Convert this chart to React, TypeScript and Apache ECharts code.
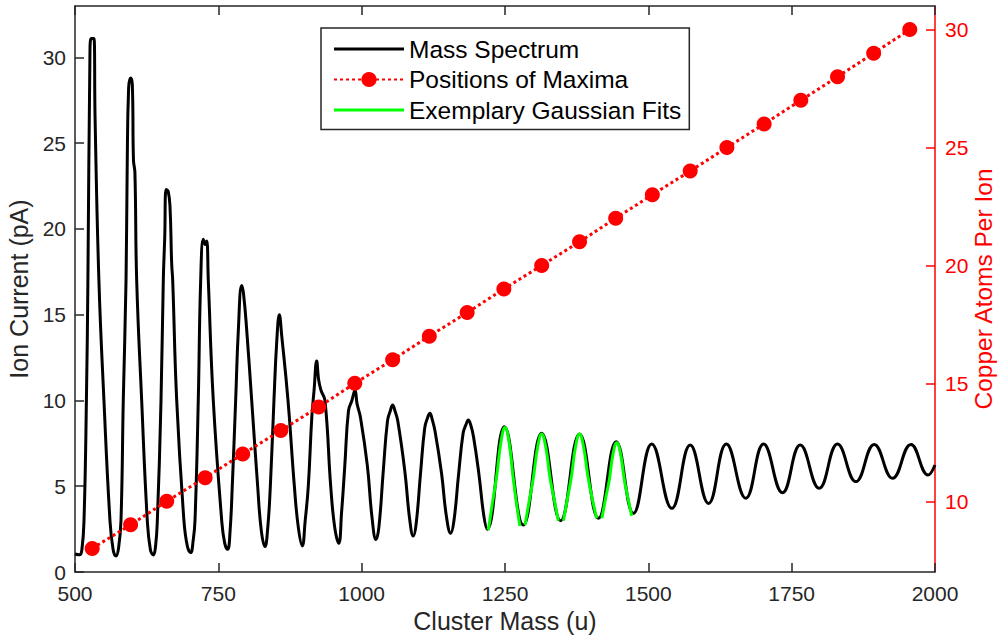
import React, { useEffect, useRef } from "react";
import * as echarts from "echarts";

// ---- axis ticks ----
const massTicks = [500, 750, 1000, 1250, 1500, 1750, 2000];
const currentTicks = [0, 5, 10, 15, 20, 25, 30];
const atomTicks = [10, 15, 20, 25, 30];

// ---- mass spectrum ----
const spectrumMass = [
  500, 508, 512,
  515.7, 519.9, 522.5, 526, 528, 533, 535, 541.7, 550.5, 561, 566.5, 571.5,
  576, 580.2, 584.2, 589, 591, 593.5, 597, 600, 602, 604.5, 607.6, 616.3, 626.1, 631.5, 636.6,
  640.5, 643.6, 650, 654, 656.5, 659, 662.5, 665.7, 668.6, 670.4, 677.4, 690, 696, 701.8,
  706, 709.3, 715, 719.2, 723.8, 727, 729.7, 732.5, 741.2, 755.9, 761, 766.3,
  770.5, 774.3, 780.2, 784.9, 790.7, 794, 799.5, 808.2, 818.6, 825, 831.4,
  836, 840.7, 847, 852, 856.4, 860.5, 871.5, 882.6, 889.5, 896.4,
  901.5, 906.9, 913, 917, 921.5, 925, 929, 936, 946, 953, 960,
  965, 970.6, 977, 983, 988.4, 992, 998, 1009.9, 1018, 1025,
  1030, 1037.7, 1045, 1050, 1054, 1058, 1063, 1075.2, 1084, 1090,
  1095, 1102.7, 1110, 1115, 1119, 1123, 1128, 1139.3, 1148, 1155.3,
  1161, 1169, 1177, 1182, 1186, 1190, 1195, 1204.6, 1213, 1219.1,
  1249, 1282, 1314, 1347, 1380, 1413, 1444, 1474, 1506, 1541, 1573, 1605,
  1636, 1670, 1701, 1734, 1765, 1798, 1830, 1862, 1894, 1926, 1958, 1988, 2000,
];
const spectrumCurrent = [
  1.05, 1.0, 1.3,
  3, 10, 17, 30, 31.1, 31.1, 26.5, 17, 10, 3, 1.3, 0.93,
  1.4, 3, 10, 17, 23.5, 28.2, 28.8, 28.4, 24, 23.3, 17, 10, 3, 1.3, 0.99,
  1.5, 3, 10, 17, 19.5, 22.3, 22.2, 21.3, 18, 17, 10, 3, 1.5, 1.13,
  1.8, 3, 10, 17, 19.4, 19.1, 19.3, 17, 10, 3, 1.7, 1.32,
  2.4, 5, 10, 14.1, 16.7, 16.2, 14.1, 10, 5, 2.4, 1.48,
  2.5, 5, 10, 13.5, 15.0, 13.8, 10, 5, 2.6, 1.52,
  3, 5, 9, 10.6, 12.3, 11.2, 10.6, 10, 5, 2.6, 1.67,
  3.5, 6.2, 9.4, 10, 10.6, 9.8, 9.0, 6.2, 3.2, 1.9,
  2.6, 5.9, 8.8, 9.4, 9.74, 9.4, 8.8, 5.9, 3, 2.1,
  2.8, 5.76, 8.4, 9.0, 9.25, 8.9, 8.2, 5.76, 3.2, 2.26,
  3.0, 5.68, 8.1, 8.6, 8.86, 8.6, 7.9, 5.68, 3.3, 2.49,
  8.47, 2.74, 8.09, 2.99, 8.05, 3.13, 7.6, 3.42, 7.46, 3.71, 7.4, 4.0,
  7.46, 4.3, 7.46, 4.62, 7.4, 4.88, 7.46, 5.27, 7.44, 5.46, 7.44, 5.66, 6.24,
];

// ---- positions of maxima ----
const maximaMass = [
  530, 597, 660, 727, 792.5, 859, 925, 988, 1054, 1118, 1184, 1248,
  1314, 1380, 1443, 1507, 1573, 1637, 1702, 1766, 1830, 1893, 1956,
];
const atomsPerIon = [
  8, 9, 10, 11, 12, 13, 14, 15, 16, 17, 18, 19,
  20, 21, 22, 23, 24, 25, 26, 27, 28, 29, 30,
];

// ---- exemplary gaussian fits (null = gap) ----
const fitMass = [
  1221, 1228, 1235.5, 1243, 1250, 1257, 1263.5, 1270, 1276, 1280,
  1285, 1292, 1299.5, 1307, 1314, 1321, 1328.5, 1336, 1343, 1347,
  1352, 1359, 1366, 1373, 1380, 1387, 1394.5, 1402, 1410, 1414,
  1419, 1425.5, 1432, 1438.5, 1445, 1451.5, 1458, 1464.5, 1471,
];
const fitCurrent = [
  2.45, 4.0, 5.6, 7.6, 8.42, 7.6, 5.7, 4.0, 2.68, null,
  2.74, 4.1, 5.5, 7.3, 8.05, 7.3, 5.5, 4.2, 2.99, null,
  2.99, 4.3, 5.6, 7.3, 8.05, 7.3, 5.6, 4.3, 3.13, null,
  3.13, 4.3, 5.4, 6.9, 7.54, 6.9, 5.4, 4.3, 3.27,
];

const FONT = "'Liberation Sans', Arial, Helvetica, sans-serif";
const AX = "#262626";
const LINE_ICON = "path://M0,0H70V3H0Z";

export default function App() {
  const ref = useRef<HTMLDivElement>(null);
  useEffect(() => {
    if (!ref.current) return;
    const chart = echarts.init(ref.current, undefined, { renderer: "svg" });
    const spectrum = spectrumMass.map((m, i) => [m, spectrumCurrent[i]]);
    const maxima = maximaMass.map((m, i) => [m, atomsPerIon[i]]);
    const fits = fitMass.map((m, i) => [m, fitCurrent[i] === null ? "-" : fitCurrent[i]]);
    const plain = (v: number) => String(v);
    chart.setOption({
      animation: false,
      textStyle: { fontFamily: FONT },
      grid: { left: 75, right: 66, top: 6, bottom: 67, containLabel: false, outerBoundsMode: "none" },
      legend: {
        left: 321,
        top: 28,
        orient: "vertical",
        backgroundColor: "#fff",
        borderColor: AX,
        borderWidth: 1.5,
        borderRadius: 0,
        padding: [8.5, 8, 7, 12],
        itemWidth: 70,
        itemHeight: 19,
        itemGap: 5.5,
        textStyle: { fontFamily: FONT, fontSize: 24.5, color: "#000" },
        data: [
          { name: "Mass Spectrum", icon: LINE_ICON, itemStyle: { color: "#000" } },
          { name: "Positions of Maxima" },
          { name: "Exemplary Gaussian Fits", icon: LINE_ICON, itemStyle: { color: "#00ff00" } },
        ],
      },
      xAxis: [
        {
          type: "value",
          min: 500,
          max: 2000,
          interval: 250,
          position: "bottom",
          name: "Cluster Mass (u)",
          nameLocation: "middle",
          nameGap: 30,
          nameTextStyle: { fontFamily: FONT, fontSize: 25, color: AX },
          axisLine: { show: true, lineStyle: { color: AX, width: 1.5 } },
          axisTick: { show: true, inside: true, length: 9, lineStyle: { color: AX, width: 1.5 }, customValues: massTicks },
          axisLabel: { fontFamily: FONT, fontSize: 21, color: AX, margin: 11, customValues: massTicks, formatter: plain },
          splitLine: { show: false },
        },
        {
          type: "value",
          min: 500,
          max: 2000,
          interval: 250,
          position: "top",
          axisLine: { show: true, lineStyle: { color: AX, width: 1.5 } },
          axisTick: { show: true, inside: true, length: 9, lineStyle: { color: AX, width: 1.5 }, customValues: massTicks },
          axisLabel: { show: false },
          splitLine: { show: false },
        },
      ],
      yAxis: [
        {
          type: "value",
          min: 0,
          max: 33,
          position: "left",
          name: "Ion Current (pA)",
          nameLocation: "middle",
          nameGap: 38,
          nameTextStyle: { fontFamily: FONT, fontSize: 25, color: AX },
          axisLine: { show: true, lineStyle: { color: AX, width: 1.5 } },
          axisTick: { show: true, inside: true, length: 9, lineStyle: { color: AX, width: 1.5 }, customValues: currentTicks },
          axisLabel: { fontFamily: FONT, fontSize: 21, color: AX, margin: 9, customValues: currentTicks, formatter: plain },
          splitLine: { show: false },
        },
        {
          type: "value",
          min: 7,
          max: 31,
          position: "right",
          name: "Copper Atoms Per Ion",
          nameLocation: "middle",
          nameRotate: 90,
          nameGap: 36,
          nameMoveOverlap: false,
          nameTextStyle: { fontFamily: FONT, fontSize: 24.5, color: "#ff0000" },
          axisLine: { show: true, lineStyle: { color: "#ff0000", width: 1.5 } },
          axisTick: { show: true, inside: true, length: 9, lineStyle: { color: "#ff0000", width: 1.5 }, customValues: atomTicks },
          axisLabel: { fontFamily: FONT, fontSize: 21, color: "#ff0000", margin: 10, customValues: atomTicks, formatter: plain },
          splitLine: { show: false },
        },
      ],
      series: [
        {
          name: "Mass Spectrum",
          type: "line",
          xAxisIndex: 0,
          yAxisIndex: 0,
          data: spectrum,
          symbol: "none",
          smooth: 0.45,
          lineStyle: { color: "#000", width: 3 },
          itemStyle: { color: "#000" },
          z: 2,
        },
        {
          name: "Positions of Maxima",
          type: "line",
          xAxisIndex: 0,
          yAxisIndex: 1,
          data: maxima,
          symbol: "circle",
          symbolSize: 15,
          lineStyle: { color: "#ff0000", width: 3, type: [3, 3] },
          itemStyle: { color: "#ff0000" },
          z: 3,
        },
        {
          name: "Exemplary Gaussian Fits",
          type: "line",
          xAxisIndex: 0,
          yAxisIndex: 0,
          data: fits,
          symbol: "none",
          smooth: 0.45,
          connectNulls: false,
          lineStyle: { color: "#00ff00", width: 3 },
          itemStyle: { color: "#00ff00" },
          z: 4,
        },
      ],
    });
    return () => chart.dispose();
  }, []);
  return (
    <div
      ref={ref}
      style={{ position: "fixed", left: 0, top: 0, width: 1001, height: 639, background: "#fff" }}
    />
  );
}
